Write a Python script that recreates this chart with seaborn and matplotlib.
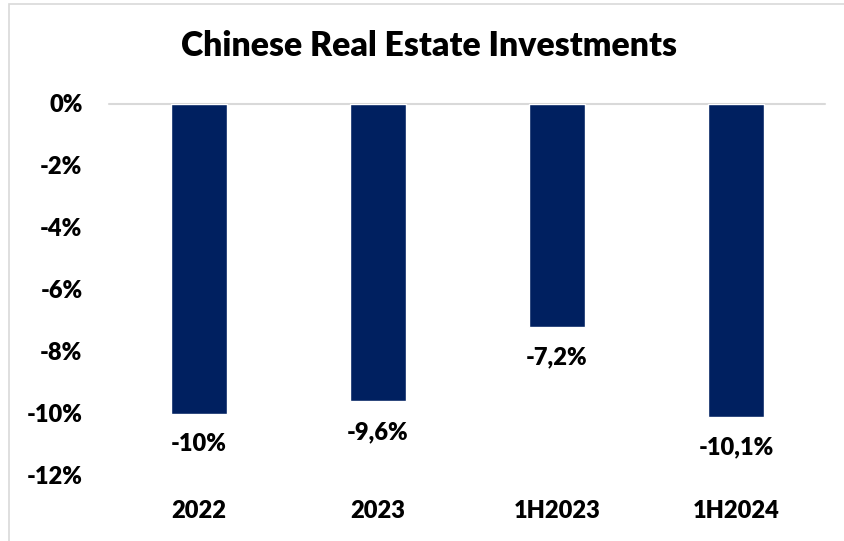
import matplotlib
matplotlib.use("Agg")
import matplotlib.pyplot as plt
import seaborn as sns
from matplotlib.patches import Rectangle

# Data
categories = ["2022", "2023", "1H2023", "1H2024"]
values = [-10.0, -9.6, -7.2, -10.1]
yticks = [0, -2, -4, -6, -8, -10, -12]

sns.set_theme(style="white")
plt.rcParams["font.family"] = ["Lato", "DejaVu Sans"]
WEIGHT = "heavy"

W, H = 845, 541
fig = plt.figure(figsize=(W / 100, H / 100), dpi=100)
fig.patch.set_facecolor("white")

# Outer chart border (light gray)
fig.patches.append(Rectangle((9.5 / W, -0.1), 1.2, 1 - 3.5 / H + 0.1,
                             transform=fig.transFigure, fill=False,
                             edgecolor="#d9d9d9", linewidth=1.2))

left, right = 109.5 / W, 825.5 / W
top, bottom = 1 - 103.5 / H, 1 - 475.5 / H
ax = fig.add_axes([left, bottom, right - left, top - bottom])

sns.barplot(x=categories, y=values, color="#002060", width=0.313,
            saturation=1, ax=ax)

ax.set_xlim(-0.5, 3.5)
ax.set_ylim(-12, 0)
ax.set_yticks(yticks)
ax.set_yticklabels([f"{t}%" for t in yticks])
for s in ax.spines.values():
    s.set_visible(False)
ax.axhline(0, color="#d9d9d9", linewidth=1.5, zorder=0, clip_on=False)
ax.set_xlabel("")
ax.set_ylabel("")
ax.tick_params(axis="y", length=0, pad=19.5, labelsize=17, labelcolor="black")
ax.tick_params(axis="x", length=0, pad=18, labelsize=17, labelcolor="black")
for lab in ax.get_xticklabels() + ax.get_yticklabels():
    lab.set_fontweight(WEIGHT)

# Value labels below each bar end
for i, v in enumerate(values):
    txt = f"{v:g}".replace(".", ",") + "%"
    ax.annotate(txt, xy=(i, v), xytext=(0, -22.3), textcoords="offset points",
                ha="center", va="center", fontsize=17, fontweight=WEIGHT,
                color="black", annotation_clip=False)

fig.text(0.5 + 7 / W, 1 - 46.5 / H, "Chinese Real Estate Investments",
         ha="center", va="center", fontsize=24.3, fontweight=WEIGHT,
         color="black")

fig.savefig("out.png", dpi=100, facecolor="white")
